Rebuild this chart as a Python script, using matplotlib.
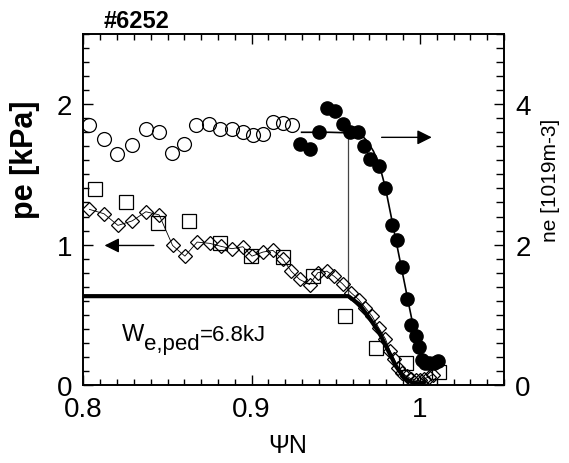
import matplotlib
matplotlib.use('Agg')
import matplotlib.pyplot as plt
from matplotlib.ticker import MultipleLocator

plt.rcParams['font.family'] = ['Liberation Sans', 'DejaVu Sans']

# ne profile (right axis, 1e19 m-3)
ne_open_x = [0.8035, 0.8122, 0.8201, 0.8286, 0.8370, 0.8450, 0.8527, 0.8598, 0.8672,
             0.8747, 0.8810, 0.8883, 0.8948, 0.9008, 0.9067, 0.9126, 0.9186, 0.9241]
ne_open_y = [3.70, 3.50, 3.29, 3.42, 3.64, 3.60, 3.31, 3.44, 3.71,
             3.72, 3.64, 3.64, 3.60, 3.56, 3.57, 3.75, 3.73, 3.70]

ne_fill_x = [0.9285, 0.9348, 0.9399, 0.9447, 0.9494, 0.9542, 0.9584, 0.9635, 0.9670,
             0.9706, 0.9755, 0.9795, 0.9832, 0.9865, 0.9891, 0.9923, 0.9949, 0.9977,
             0.9996, 1.0010, 1.0032, 1.0056, 1.0085, 1.0109]
ne_fill_y = [3.44, 3.36, 3.60, 3.95, 3.90, 3.72, 3.60, 3.61, 3.40,
             3.22, 3.12, 2.80, 2.28, 2.07, 1.68, 1.23, 0.86, 0.70,
             0.54, 0.36, 0.32, 0.32, 0.32, 0.34]

ne_fit_x = [0.9297, 0.9463, 0.9611, 0.9653, 0.9688, 0.9724, 0.9760, 0.9795, 0.9831,
            0.9866, 0.9902, 0.9938, 0.9967, 0.9997, 1.0027]
ne_fit_y = [3.60, 3.60, 3.59, 3.56, 3.47, 3.33, 3.13, 2.81, 2.38,
            1.96, 1.53, 1.10, 0.76, 0.51, 0.36]

# pe profile (left axis, kPa)
pe_sq_x = [0.8069, 0.8253, 0.8441, 0.8628, 0.8810, 0.8998, 0.9184, 0.9364,
           0.9553, 0.9740, 0.9919, 1.0113]
pe_sq_y = [1.398, 1.303, 1.153, 1.171, 1.014, 0.918, 0.914, 0.775,
           0.490, 0.265, 0.155, 0.091]

pe_dia_x = [0.8036, 0.8122, 0.8205, 0.8290, 0.8371, 0.8450, 0.8530, 0.8603, 0.8676,
            0.8751, 0.8820, 0.8883, 0.8948, 0.9002, 0.9067, 0.9126, 0.9186, 0.9235,
            0.9285, 0.9344, 0.9393, 0.9447, 0.9492, 0.9541, 0.9591, 0.9636, 0.9676,
            0.9716, 0.9755, 0.9795, 0.9823, 0.9848, 0.9868, 0.9894, 0.9921, 0.9949,
            0.9977, 1.0001, 1.0026, 1.0052, 1.0075]
pe_dia_y = [1.251, 1.220, 1.137, 1.169, 1.234, 1.212, 0.994, 0.918, 1.018,
            1.009, 0.987, 0.971, 0.985, 0.918, 0.947, 0.959, 0.895, 0.811,
            0.752, 0.716, 0.800, 0.811, 0.773, 0.720, 0.657, 0.609, 0.550,
            0.490, 0.408, 0.329, 0.241, 0.182, 0.123, 0.087, 0.063, 0.044,
            0.034, 0.034, 0.044, 0.058, 0.075]

pe_fit_x = [0.8, 0.9575, 0.9640, 0.9699, 0.9759, 0.9808, 0.9858, 0.9907, 0.9957, 1.0007, 1.0036]
pe_fit_y = [0.633, 0.633, 0.574, 0.479, 0.372, 0.253, 0.134, 0.051, 0.016, 0.011, 0.027]

# pedestal marker (vertical thin line), left-axis units
ped_x = 0.9575
ped_top, ped_bot = 1.797, 0.633

fig = plt.figure(figsize=(5.69, 4.64), dpi=100)
ax = fig.add_axes([0.1466, 0.168, 0.7392, 0.7566])
ax2 = ax.twinx()

ax.plot(pe_dia_x, pe_dia_y, color='black', lw=0.6, marker='D', ms=7.5,
        mfc='none', mec='black', mew=0.9, zorder=3)
ax.plot(pe_sq_x, pe_sq_y, ls='none', marker='s', ms=9.5, mfc='none',
        mec='black', mew=0.9, zorder=3)
ax.plot(pe_fit_x, pe_fit_y, color='black', lw=3, solid_capstyle='butt', zorder=4)
ax.plot([ped_x, ped_x], [ped_bot, ped_top], color='#444444', lw=0.9, zorder=2)

ax2.plot(ne_open_x, ne_open_y, ls='none', marker='o', ms=10, mfc='none',
         mec='black', mew=0.9, zorder=3)
ax2.plot(ne_fit_x, ne_fit_y, color='black', lw=1.2, zorder=3)
ax2.plot(ne_fill_x, ne_fill_y, ls='none', marker='o', ms=9.5, mfc='black',
         mec='black', zorder=4)

# arrows pointing to the axis each profile belongs to
ax.annotate('', xy=(0.8109, 0.994), xytext=(0.8435, 0.994),
            arrowprops=dict(arrowstyle='-|>', color='black', lw=1, mutation_scale=22))
ax.annotate('', xy=(1.0087, 1.764), xytext=(0.9756, 1.764),
            arrowprops=dict(arrowstyle='-|>', color='black', lw=1, mutation_scale=22))

# W_e,ped label: subscript kept at nearly full size, as in the original
wx, wy = 0.8229, 0.319
ax.text(wx, wy, 'W', fontsize=17, va='baseline', ha='left')
ax.annotate('e,ped', xy=(wx, wy), xytext=(16, -6), textcoords='offset points',
            fontsize=16, va='baseline', ha='left')
ax.annotate('=6.8kJ', xy=(wx, wy), xytext=(56, 0), textcoords='offset points',
            fontsize=16, va='baseline', ha='left')

ax.set_xlim(0.8, 1.05)
ax.set_ylim(0, 2.5)
ax2.set_ylim(0, 5)

ax.set_xticks([0.8, 0.9, 1.0])
ax.set_xticklabels(['0.8', '0.9', '1'])
ax.xaxis.set_minor_locator(MultipleLocator(0.01))
ax.set_yticks([0, 1, 2])
ax.yaxis.set_minor_locator(MultipleLocator(0.1))
ax2.set_yticks([0, 2, 4])
ax2.yaxis.set_minor_locator(MultipleLocator(0.2))

ax.tick_params(axis='x', which='both', direction='in', top=True, labelsize=20, pad=8)
ax.tick_params(axis='y', which='both', direction='in', labelsize=20, pad=8)
ax.tick_params(which='major', length=7, width=1)
ax.tick_params(which='minor', length=4, width=1)
ax2.tick_params(axis='y', which='both', direction='in', labelsize=20, pad=8)
ax2.tick_params(which='major', length=7, width=1)
ax2.tick_params(which='minor', length=6, width=1)
for a in (ax, ax2):
    for s in a.spines.values():
        s.set_linewidth(1.2)

fig.text(137 / 569, 1 - 22 / 464, '#6252', fontsize=17, fontweight='bold', ha='center', va='center')
fig.text(25 / 569, 1 - 160 / 464, 'pe [kPa]', fontsize=22, fontweight='bold',
         rotation=90, ha='center', va='center')
fig.text(550 / 569, 1 - 180 / 464, 'ne [1019m-3]', fontsize=15,
         rotation=90, ha='center', va='center')
fig.text(288 / 569, 1 - 446 / 464, 'ΨN', fontsize=18, ha='center', va='center')

fig.savefig('out.png', dpi=100)
